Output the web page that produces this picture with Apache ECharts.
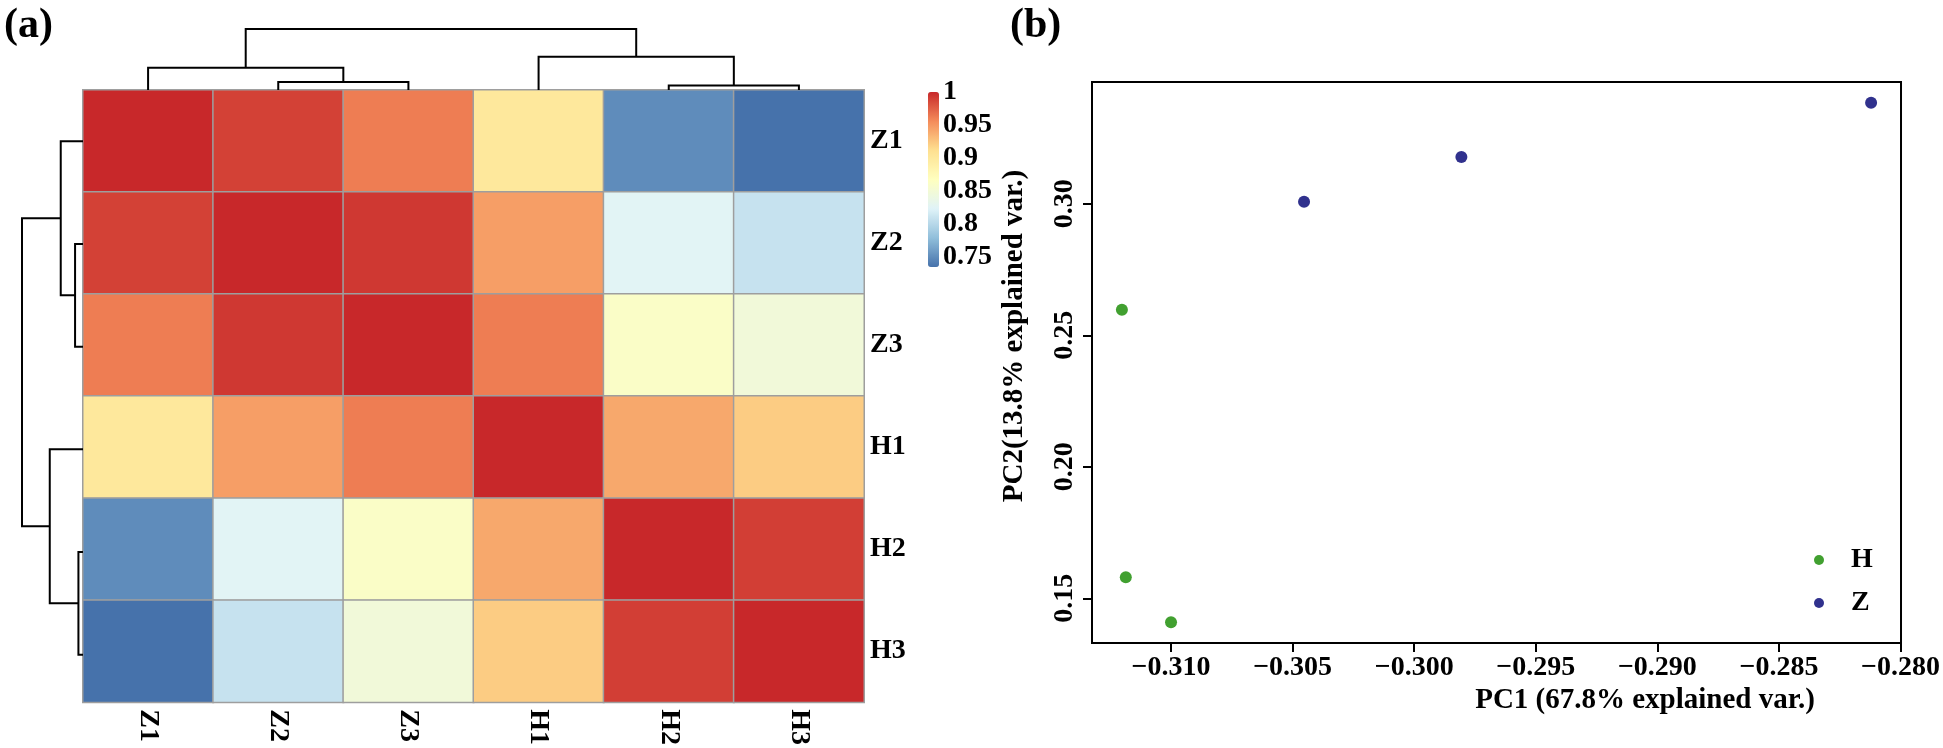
<!DOCTYPE html>
<html>
<head>
<meta charset="utf-8">
<script src="https://cdn.jsdelivr.net/npm/echarts@6/dist/echarts.min.js"></script>
<style>
html,body{margin:0;padding:0;background:#fff;}
#chart{width:1943px;height:748px;}
</style>
</head>
<body>
<div id="chart"></div>
<script>
// ---------- DATA ----------
const samples = ['Z1', 'Z2', 'Z3', 'H1', 'H2', 'H3'];
// correlation matrix rows (Z1..H3), columns (Z1..H3)
const rowZ1 = [1.000, 0.989, 0.962, 0.900, 0.750, 0.735];
const rowZ2 = [0.989, 1.000, 0.993, 0.946, 0.826, 0.809];
const rowZ3 = [0.962, 0.993, 1.000, 0.962, 0.861, 0.847];
const rowH1 = [0.900, 0.946, 0.962, 1.000, 0.941, 0.922];
const rowH2 = [0.750, 0.826, 0.861, 0.941, 1.000, 0.990];
const rowH3 = [0.735, 0.809, 0.847, 0.922, 0.990, 1.000];
// hierarchical clustering (merge i joins mergeA[i] and mergeB[i] at mergeHeight[i]); m1..m5 are merges
const mergeA = ['Z2', 'H2', 'Z1', 'H1', 'm3'];
const mergeB = ['Z3', 'H3', 'm1', 'm2', 'm4'];
const mergeHeight = [0.13, 0.075, 0.365, 0.545, 1.0];
// colour legend
const legendTicks = [0.75, 0.8, 0.85, 0.9, 0.95, 1];
const colorMin = 0.735, colorMax = 1.0;
// PCA scores
const pcaH_x = [-0.31202, -0.31186, -0.31000];
const pcaH_y = [0.2597, 0.1580, 0.1409];
const pcaZ_x = [-0.30453, -0.29806, -0.28121];
const pcaZ_y = [0.3008, 0.3178, 0.3384];
const pc1Ticks = [-0.310, -0.305, -0.300, -0.295, -0.290, -0.285, -0.280];
const pc2Ticks = [0.15, 0.20, 0.25, 0.30];
const pc1Range = [-0.31325, -0.27998];
const pc2Range = [0.1330, 0.3463];

// ---------- BUILD ----------
const FONT = '"Liberation Serif", "Times New Roman", serif';
const matrix = [rowZ1, rowZ2, rowZ3, rowH1, rowH2, rowH3];
const heatData = [];
matrix.forEach((row, i) => row.forEach((v, j) => heatData.push([j, i, v])));

function dendroSegments() {
  const pos = {}, ht = {};
  samples.forEach((s, i) => { pos[s] = i; ht[s] = 0; });
  const segs = [];
  mergeHeight.forEach((h, k) => {
    const a = mergeA[k], b = mergeB[k], id = 'm' + (k + 1);
    segs.push([[pos[a], ht[a]], [pos[a], h], [pos[b], h], [pos[b], ht[b]]]);
    pos[id] = (pos[a] + pos[b]) / 2; ht[id] = h;
  });
  return segs;
}
const segs = dendroSegments();
const topSegs = segs.map(s => ({ coords: s }));
const leftSegs = segs.map(s => ({ coords: s.map(p => [p[1], p[0]]) }));

const lab = (size) => ({ fontFamily: FONT, fontWeight: 'bold', fontSize: size, color: '#000' });
const minus = s => s.replace('-', '\u2212');

const chart = echarts.init(document.getElementById('chart'), null, { renderer: 'canvas' });
const option = {
  animation: false,
  backgroundColor: '#fff',
  grid: [
    { left: 83, top: 90, width: 781, height: 616 },
    { left: 83, top: 29, width: 781, height: 61 },
    { left: 22, top: 90, width: 61, height: 616 },
    { left: 928, top: 92, width: 11, height: 175 },
    { left: 1092, top: 82, width: 822, height: 561, show: true, borderColor: '#000', borderWidth: 2, backgroundColor: 'transparent' }
  ],
  xAxis: [
    { type: 'category', gridIndex: 0, data: samples, position: 'bottom',
      axisLine: { show: false }, axisTick: { show: false }, splitLine: { show: false },
      axisLabel: Object.assign(lab(28), { rotate: -90, margin: 7 }) },
    { type: 'value', gridIndex: 1, min: -0.5, max: 5.5, show: false },
    { type: 'value', gridIndex: 2, min: 0, max: 1, inverse: true, show: false },
    { type: 'value', gridIndex: 3, min: 0, max: 1, show: false },
    { type: 'value', gridIndex: 4, min: pc1Range[0], max: pc1Range[1],
      axisLine: { show: true, onZero: false, lineStyle: { color: '#000', width: 2 } },
      axisTick: { show: true, length: 9, lineStyle: { color: '#000', width: 2 }, customValues: pc1Ticks },
      axisLabel: Object.assign(lab(28), { margin: 11, customValues: pc1Ticks, formatter: v => minus(v.toFixed(3)) }),
      splitLine: { show: false } }
  ],
  yAxis: [
    { type: 'category', gridIndex: 0, data: samples, inverse: true, position: 'right',
      axisLine: { show: false }, axisTick: { show: false }, splitLine: { show: false },
      axisLabel: Object.assign(lab(28), { margin: 6 }) },
    { type: 'value', gridIndex: 1, min: 0, max: 1, show: false },
    { type: 'value', gridIndex: 2, min: -0.5, max: 5.5, inverse: true, show: false },
    { type: 'value', gridIndex: 3, min: colorMin, max: colorMax, position: 'right',
      axisLine: { show: false }, axisTick: { show: false }, splitLine: { show: false },
      axisLabel: Object.assign(lab(28), { margin: 4, customValues: legendTicks, formatter: v => String(+v.toFixed(2)) }) },
    { type: 'value', gridIndex: 4, min: pc2Range[0], max: pc2Range[1],
      axisLine: { show: true, onZero: false, lineStyle: { color: '#000', width: 2 } },
      axisTick: { show: true, length: 9, lineStyle: { color: '#000', width: 2 }, customValues: pc2Ticks },
      axisLabel: Object.assign(lab(28), { rotate: 90, margin: 13, customValues: pc2Ticks, formatter: v => v.toFixed(2) }),
      splitLine: { show: false } }
  ],
  visualMap: {
    type: 'continuous', seriesIndex: 0, dimension: 2,
    min: colorMin, max: colorMax, calculable: false, showLabel: false,
    left: 928, top: 92, itemWidth: 11, itemHeight: 175, padding: 0,
    inRange: { color: ['#4672AB', '#91BFDB', '#E0F3F8', '#FFFFBF', '#FEE090', '#F48B5A', '#C8282A'] }
  },
  legend: {
    data: ['H', 'Z'], orient: 'vertical', left: 1809, top: 541,
    icon: 'circle', itemWidth: 10, itemHeight: 10, itemGap: 15,
    textStyle: Object.assign(lab(28), { lineHeight: 28, padding: [0, 0, 0, 22] })
  },
  graphic: [
    { type: 'text', x: 4, y: 5, style: { text: '(a)', font: 'bold 42px "Liberation Serif", serif', fill: '#000' } },
    { type: 'text', x: 1010, y: 5, style: { text: '(b)', font: 'bold 42px "Liberation Serif", serif', fill: '#000' } },
    { type: 'text', x: 1645, y: 701, style: { text: 'PC1 (67.8% explained var.)', font: 'bold 29px "Liberation Serif", serif', fill: '#000', align: 'center', verticalAlign: 'middle' } },
    { type: 'text', x: 1015, y: 336, rotation: Math.PI / 2, style: { text: 'PC2(13.8% explained var.)', font: 'bold 29px "Liberation Serif", serif', fill: '#000', align: 'center', verticalAlign: 'middle' } }
  ],
  series: [
    { type: 'heatmap', xAxisIndex: 0, yAxisIndex: 0, data: heatData,
      itemStyle: { borderColor: '#9E9E9E', borderWidth: 1.5 }, emphasis: { disabled: true } },
    { type: 'lines', coordinateSystem: 'cartesian2d', xAxisIndex: 1, yAxisIndex: 1, polyline: true,
      data: topSegs, lineStyle: { color: '#000', width: 2, opacity: 1 }, silent: true },
    { type: 'lines', coordinateSystem: 'cartesian2d', xAxisIndex: 2, yAxisIndex: 2, polyline: true,
      data: leftSegs, lineStyle: { color: '#000', width: 2, opacity: 1 }, silent: true },
    { name: 'H', type: 'scatter', xAxisIndex: 4, yAxisIndex: 4, symbolSize: 12,
      itemStyle: { color: '#41A030', opacity: 1 }, data: pcaH_x.map((x, i) => [x, pcaH_y[i]]) },
    { name: 'Z', type: 'scatter', xAxisIndex: 4, yAxisIndex: 4, symbolSize: 12,
      itemStyle: { color: '#30318D', opacity: 1 }, data: pcaZ_x.map((x, i) => [x, pcaZ_y[i]]) }
  ]
};
chart.setOption(option);
</script>
</body>
</html>
